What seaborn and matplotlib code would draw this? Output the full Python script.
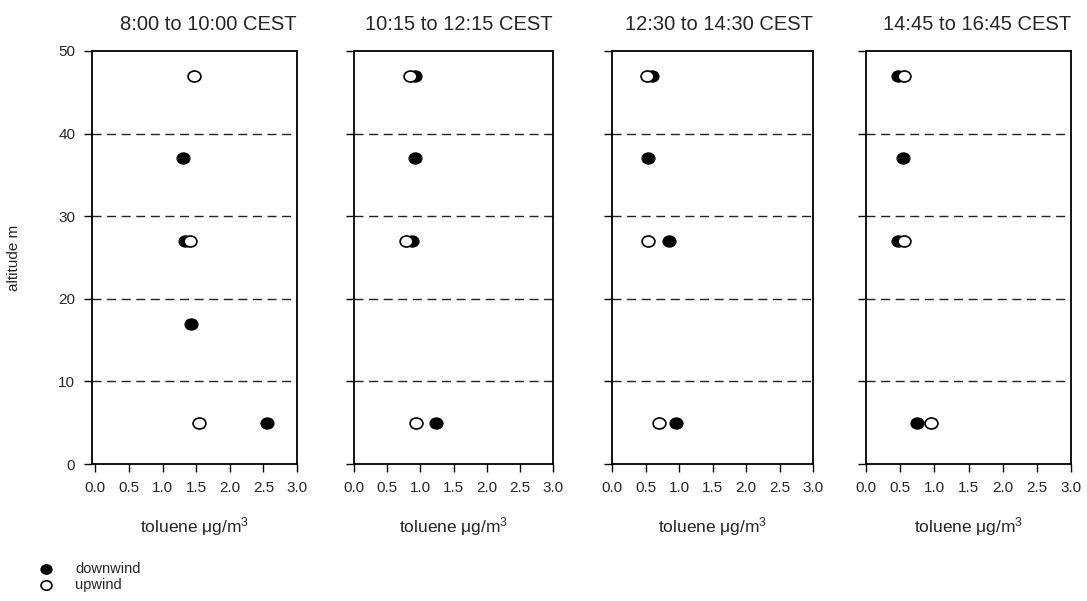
import numpy as np
import pandas as pd
import matplotlib
matplotlib.use("Agg")
import matplotlib.pyplot as plt
from matplotlib.path import Path
from matplotlib.transforms import Affine2D
import seaborn as sns

# ---- data ----
periods = ["8:00 to 10:00 CEST", "10:15 to 12:15 CEST",
           "12:30 to 14:30 CEST", "14:45 to 16:45 CEST"]

down_alt = [[37, 27, 17, 5], [47, 37, 27, 5], [47, 37, 27, 5], [47, 37, 27, 5]]
down_tol = [[1.30, 1.33, 1.42, 2.55], [0.92, 0.92, 0.87, 1.24],
            [0.60, 0.54, 0.85, 0.95], [0.47, 0.54, 0.47, 0.74]]
up_alt = [[47, 27, 5], [47, 27, 5], [47, 27, 5], [47, 27, 5]]
up_tol = [[1.47, 1.41, 1.54], [0.84, 0.78, 0.94],
          [0.52, 0.54, 0.70], [0.55, 0.55, 0.95]]

x_ticks = [0.0, 0.5, 1.0, 1.5, 2.0, 2.5, 3.0]
y_ticks = [0, 10, 20, 30, 40, 50]
grid_levels = [10, 20, 30, 40]

sns.set_theme(style="white")
plt.rcParams["font.family"] = ["Liberation Sans", "DejaVu Sans"]
plt.rcParams["mathtext.fontset"] = "custom"
plt.rcParams["mathtext.rm"] = "Liberation Sans"
plt.rcParams["mathtext.it"] = "Liberation Sans"
plt.rcParams["mathtext.default"] = "rm"

fig = plt.figure(figsize=(10.87, 6.01), dpi=100)

W, H = 1087.0, 601.0
lefts = [92, 354, 612, 866]
widths = [205, 199, 201, 205]
top_px, bot_px = 51, 464
xmins = [-0.05, 0.0, 0.0, 0.0]

ellipse = Path.unit_circle().transformed(Affine2D().scale(1.0, 0.86))

axes = []
for i in range(4):
    ax = fig.add_axes([lefts[i] / W, 1 - bot_px / H, widths[i] / W, (bot_px - top_px) / H])
    axes.append(ax)
    for lv in grid_levels:
        ax.axhline(lv, color="#222222", lw=1.0, dashes=(6.5, 4.0), zorder=1)
    df_d = pd.DataFrame({"tol": down_tol[i], "alt": down_alt[i]})
    df_u = pd.DataFrame({"tol": up_tol[i], "alt": up_alt[i]})
    sns.scatterplot(data=df_d, x="tol", y="alt", ax=ax, marker=ellipse, s=85,
                    color="black", edgecolor="black", linewidth=1.0,
                    label="downwind", zorder=3)
    sns.scatterplot(data=df_u, x="tol", y="alt", ax=ax, marker=ellipse, s=85,
                    color="white", edgecolor="black", linewidth=1.2,
                    label="upwind", zorder=4)
    ax.set_xlim(xmins[i], 3.0)
    ax.set_ylim(0, 50)
    ax.set_xticks(x_ticks)
    ax.set_xticklabels([f"{v:.1f}" for v in x_ticks], fontsize=11)
    ax.set_yticks(y_ticks)
    if i == 0:
        ax.set_yticklabels([str(v) for v in y_ticks], fontsize=11)
        ax.set_ylabel("altitude m", fontsize=11, labelpad=27)
    else:
        ax.set_yticklabels([])
        ax.set_ylabel("")
    ax.set_xlabel("toluene μg/m$^{3}$", fontsize=12.5, labelpad=15)
    ax.tick_params(axis="both", direction="out", length=6, width=1.0,
                   color="black", bottom=True, left=True, pad=6)
    for sp in ax.spines.values():
        sp.set_color("black")
        sp.set_linewidth(1.3)
    ax.set_title(periods[i], fontsize=14.5, loc="right", pad=15)
    leg = ax.get_legend()
    if leg is not None:
        leg.remove()

handles, labels = axes[0].get_legend_handles_labels()
fig.legend(handles, labels, loc="upper left", bbox_to_anchor=(0.022, 0.077),
           frameon=False, fontsize=10.5, handletextpad=1.0, labelspacing=0.15,
           borderpad=0.0, markerscale=0.85)

fig.savefig("out.png", dpi=100)
